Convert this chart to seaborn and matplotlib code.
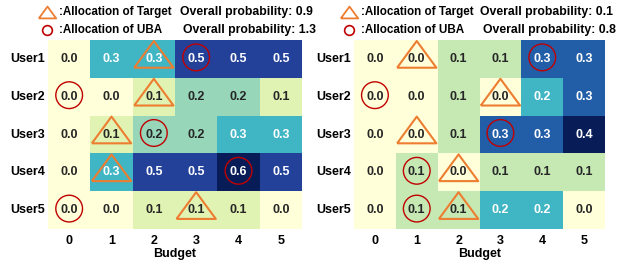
import numpy as np
import pandas as pd
import seaborn as sns
import matplotlib.pyplot as plt

users = ["User1", "User2", "User3", "User4", "User5"]
budgets = [0, 1, 2, 3, 4, 5]

# left panel
left_vals = [
    [0.0, 0.3, 0.3, 0.5, 0.5, 0.5],
    [0.0, 0.0, 0.1, 0.2, 0.2, 0.1],
    [0.0, 0.1, 0.2, 0.2, 0.3, 0.3],
    [0.0, 0.3, 0.5, 0.5, 0.6, 0.5],
    [0.0, 0.0, 0.1, 0.1, 0.1, 0.0],
]
left_target = [2, 2, 1, 1, 3]   # budget column per user
left_uba = [3, 0, 2, 4, 0]
left_prob = (0.9, 1.3)

# right panel
right_vals = [
    [0.0, 0.0, 0.1, 0.1, 0.3, 0.3],
    [0.0, 0.0, 0.1, 0.0, 0.2, 0.3],
    [0.0, 0.0, 0.1, 0.3, 0.3, 0.4],
    [0.0, 0.1, 0.0, 0.1, 0.1, 0.1],
    [0.0, 0.1, 0.1, 0.2, 0.2, 0.0],
]
right_target = [1, 3, 1, 2, 2]
right_uba = [4, 0, 3, 1, 1]
right_prob = (0.1, 0.8)

plt.rcParams['font.family'] = ['Liberation Sans', 'DejaVu Sans']
plt.rcParams['font.weight'] = 'bold'

W, H = 619, 263
fig = plt.figure(figsize=(W / 100, H / 100), dpi=100)

tri_col = "#ed7d31"
circ_col = "#c00000"
# flat triangle (wider than tall)
tri = [(-1, -0.68), (1, -0.68), (0, 0.68), (-1, -0.68)]


def panel(x0, x1, vals, target, uba, prob, lx, px):
    ax = fig.add_axes([x0 / W, (H - 229) / H, (x1 - x0) / W, (229 - 40) / H])
    df = pd.DataFrame(vals, index=users, columns=budgets)
    sns.heatmap(df, ax=ax, cmap="YlGnBu", vmin=0, vmax=df.values.max(),
                annot=True, fmt=".1f", cbar=False,
                annot_kws={"size": 9, "weight": "bold"})
    ax.tick_params(length=0, labelsize=9)
    ax.tick_params(axis="y", pad=2)
    ax.tick_params(axis="x", pad=4)
    ax.set_yticklabels(users, rotation=0, fontweight="bold")
    ax.set_xticklabels(budgets, fontweight="bold")
    ax.set_xlabel("Budget", fontsize=9, fontweight="bold", labelpad=1)
    ax.set_ylabel("")
    rows = np.arange(len(users)) + 0.5
    ax.scatter(np.array(target) + 0.5, rows - 0.12, marker=tri, s=800,
               facecolors="none", edgecolors=tri_col, linewidths=1.5, zorder=5,
               clip_on=False)
    ax.scatter(np.array(uba) + 0.5, rows - 0.04, marker="o", s=370,
               facecolors="none", edgecolors=circ_col, linewidths=1.0, zorder=5,
               clip_on=False)

    # legend at the top
    fig.add_artist(plt.Line2D([lx / W], [(H - 12) / H], marker=tri, markersize=12.5,
                              markerfacecolor="none", markeredgecolor=tri_col,
                              markeredgewidth=1.3, transform=fig.transFigure))
    fig.add_artist(plt.Line2D([lx / W], [(H - 30) / H], marker="o", markersize=7,
                              markerfacecolor="none", markeredgecolor=circ_col,
                              markeredgewidth=1.2, transform=fig.transFigure))
    fig.text((lx + 12) / W, (H - 12) / H, ":Allocation of Target", fontsize=8.4,
             fontweight="bold", va="center")
    fig.text((lx + 12) / W, (H - 30) / H, ":Allocation of UBA", fontsize=8.4,
             fontweight="bold", va="center")
    fig.text(px / W, (H - 12) / H, "Overall probability: %.1f" % prob[0],
             fontsize=8.8, fontweight="bold", va="center")
    fig.text((px + 3) / W, (H - 30) / H, "Overall probability: %.1f" % prob[1],
             fontsize=8.8, fontweight="bold", va="center")


panel(48, 302, left_vals, left_target, left_uba, left_prob, 47, 180)
panel(354, 605, right_vals, right_target, right_uba, right_prob, 349, 480)

fig.savefig("out.png", dpi=100)
